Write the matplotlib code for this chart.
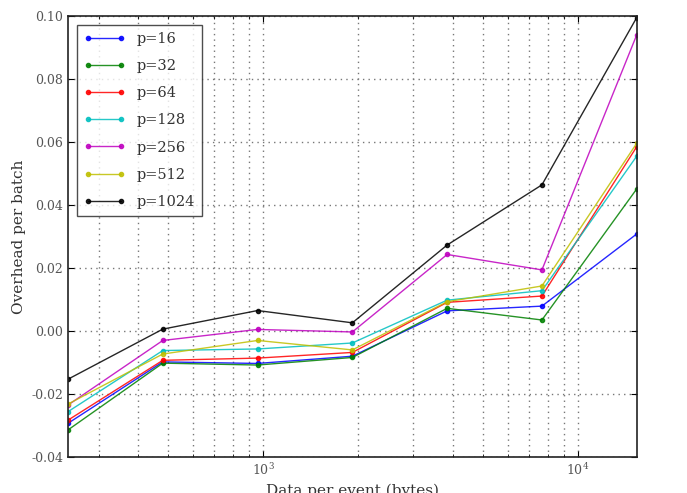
import matplotlib
matplotlib.use("Agg")
import matplotlib.pyplot as plt

# Donnees
data_size = [240, 480, 960, 1920, 3840, 7680, 15360]
procs = [16, 32, 64, 128, 256, 512, 1024]
colors = ['b', 'g', 'r', 'c', 'm', 'y', 'k']

overhead = {
    16:   [-0.0293, -0.0098, -0.0103, -0.0080, 0.0064, 0.0079, 0.0308],
    32:   [-0.0314, -0.0102, -0.0108, -0.0084, 0.0072, 0.0035, 0.0451],
    64:   [-0.0283, -0.0093, -0.0086, -0.0068, 0.0091, 0.0111, 0.0585],
    128:  [-0.0256, -0.0062, -0.0057, -0.0038, 0.0098, 0.0128, 0.0555],
    256:  [-0.0235, -0.0030, 0.0005, -0.0003, 0.0243, 0.0194, 0.0940],
    512:  [-0.0232, -0.0073, -0.0030, -0.0060, 0.0093, 0.0143, 0.0596],
    1024: [-0.0153, 0.0006, 0.0065, 0.0026, 0.0273, 0.0464, 0.0995],
}

plt.rcParams['font.family'] = 'DejaVu Serif'
plt.rcParams['font.size'] = 9
plt.rcParams['xtick.direction'] = 'in'
plt.rcParams['ytick.direction'] = 'in'
plt.rcParams['axes.unicode_minus'] = True

fig = plt.figure(figsize=(6.87, 4.93), dpi=100)
ax = fig.add_axes([0.099, 0.073, 0.8278, 0.8945])

for p, c in zip(procs, colors):
    ax.plot(data_size, overhead[p], color=c, marker='.', markersize=6, lw=1,
            alpha=0.85, label='p=%d' % p)

ax.set_xscale('log')
ax.set_xlim(240, 15360)
ax.set_ylim(-0.04, 0.10)
ax.set_yticks([-0.04, -0.02, 0.0, 0.02, 0.04, 0.06, 0.08, 0.10])
ax.yaxis.set_major_formatter(matplotlib.ticker.FormatStrFormatter('%.2f'))

grid_style = dict(color='#777777', linestyle=(0, (1, 3)), lw=1.0)
ax.grid(True, which='major', **grid_style)
ax.xaxis.grid(True, which='minor', **grid_style)
ax.tick_params(which='both', top=True, right=True, colors='k', labelcolor='#555555')
ax.tick_params(which='major', length=4)
ax.tick_params(which='minor', length=2)
for s in ax.spines.values():
    s.set_linewidth(1.2)
    s.set_color('#222222')

ax.set_xlabel('Data per event (bytes)', fontsize=11, color='#333333', labelpad=4)
ax.set_ylabel('Overhead per batch', fontsize=11, color='#333333')

leg = ax.legend(loc='upper left', numpoints=2, fancybox=False, fontsize=10.5,
                borderaxespad=0.6, handlelength=2.8, labelspacing=0.9,
                borderpad=0.5)
leg.get_frame().set_edgecolor('#222222')
leg.get_frame().set_linewidth(1.0)
for t in leg.get_texts():
    t.set_color('#333333')

plt.savefig("out.png", dpi=100)
